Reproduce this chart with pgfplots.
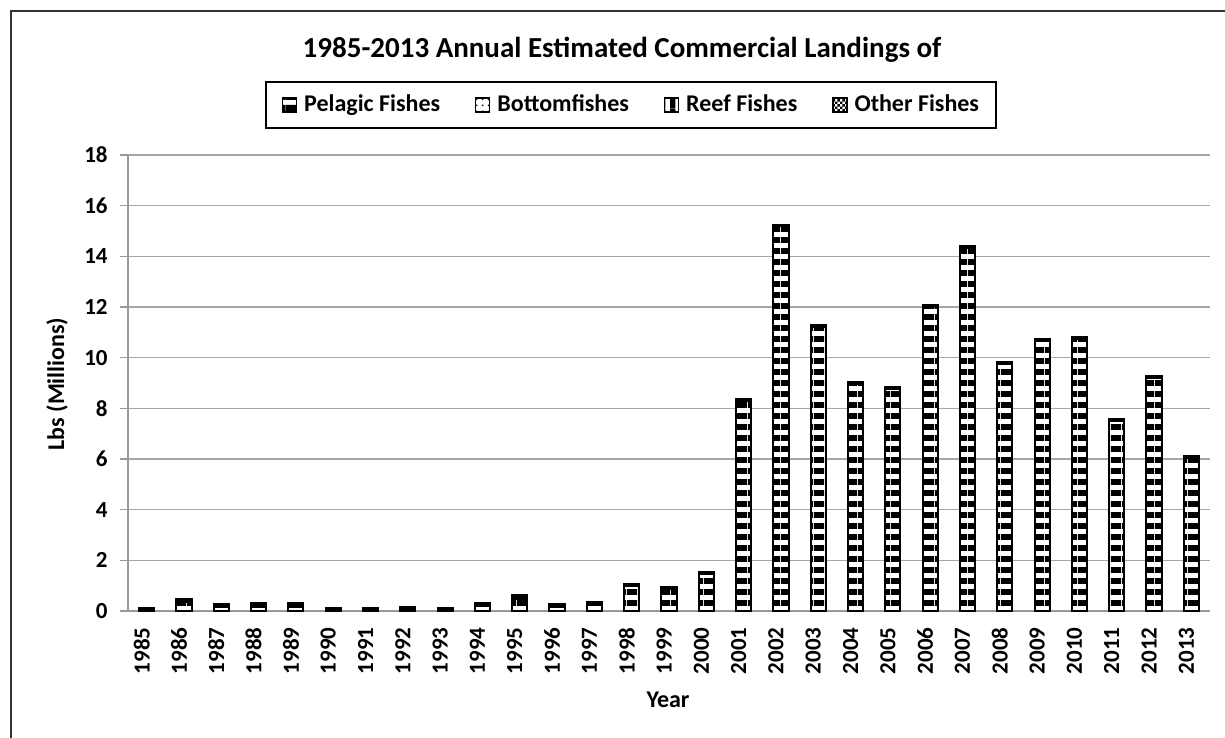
\documentclass[border=0pt]{standalone}
\usepackage{pgfplots}
\pgfplotsset{compat=1.18}
\usepackage{pgfplotstable}
\usepackage{fontspec}
\setmainfont{Carlito}
\usetikzlibrary{patterns}

% Excel-like fill patterns
\pgfdeclarepatternformonly{hstripes}{\pgfqpoint{0pt}{0pt}}{\pgfqpoint{5.5pt}{5.5pt}}{\pgfqpoint{5.5pt}{5.5pt}}{%
  \pgfpathrectangle{\pgfqpoint{0pt}{0pt}}{\pgfqpoint{5.5pt}{3.2pt}}\pgfusepath{fill}}
\pgfdeclarepatternformonly{sdots}{\pgfqpoint{0pt}{0pt}}{\pgfqpoint{3pt}{3pt}}{\pgfqpoint{3pt}{3pt}}{%
  \pgfpathrectangle{\pgfqpoint{1pt}{1pt}}{\pgfqpoint{0.8pt}{0.8pt}}\pgfusepath{fill}}
\pgfdeclarepatternformonly{vstripes}{\pgfqpoint{0pt}{0pt}}{\pgfqpoint{5pt}{5pt}}{\pgfqpoint{5pt}{5pt}}{%
  \pgfpathrectangle{\pgfqpoint{0pt}{0pt}}{\pgfqpoint{2.8pt}{5pt}}\pgfusepath{fill}}
\pgfdeclarepatternformonly{checker}{\pgfqpoint{0pt}{0pt}}{\pgfqpoint{2.4pt}{2.4pt}}{\pgfqpoint{2.4pt}{2.4pt}}{%
  \pgfpathrectangle{\pgfqpoint{0pt}{0pt}}{\pgfqpoint{1.2pt}{1.2pt}}%
  \pgfpathrectangle{\pgfqpoint{1.2pt}{1.2pt}}{\pgfqpoint{1.2pt}{1.2pt}}\pgfusepath{fill}}

% year index, pelagic, bottomfish, reef, other (million lbs)
\pgfplotstableread{
x  pel    bot   reef  oth
0  0.05   0.04  0.02  0.01
1  0.36   0.08  0.04  0.01
2  0.16   0.08  0.04  0.01
3  0.17   0.08  0.04  0.01
4  0.17   0.08  0.04  0.01
5  0.06   0.04  0.02  0.01
6  0.06   0.04  0.02  0.01
7  0.08   0.05  0.02  0.01
8  0.04   0.03  0.02  0.01
9  0.18   0.09  0.04  0.01
10 0.48   0.09  0.04  0.01
11 0.17   0.07  0.04  0.01
12 0.22   0.07  0.04  0.01
13 0.98   0.04  0.03  0.01
14 0.87   0.04  0.03  0.01
15 1.46   0.04  0.03  0.01
16 8.30   0.03  0.03  0.01
17 15.18  0.03  0.03  0.01
18 11.22  0.03  0.03  0.01
19 8.98   0.03  0.03  0.01
20 8.78   0.03  0.03  0.01
21 12.01  0.03  0.03  0.01
22 14.33  0.03  0.03  0.01
23 9.75   0.03  0.03  0.01
24 10.67  0.03  0.03  0.01
25 10.75  0.03  0.03  0.01
26 7.50   0.03  0.03  0.01
27 9.21   0.03  0.03  0.01
28 6.05   0.03  0.03  0.01
}\landings

\begin{document}
\begin{tikzpicture}
\useasboundingbox (0pt,0pt) rectangle (612.5pt,-369pt);
% outer chart frame (right and bottom edges lie outside the crop)
\draw[line width=1.4pt, black!80] (5.5pt,-400pt) -- (5.5pt,-5.5pt) -- (700pt,-5.5pt);

\node[font=\bfseries\fontsize{14.5}{17}\selectfont] at (311pt,-25pt)
  {1985-2013 Annual Estimated Commercial Landings of};

\begin{axis}[
  at={(64pt,-305.5pt)}, anchor=south west,
  width=541pt, height=228pt, scale only axis,
  ybar stacked, bar width=7.6pt,
  xmin=-0.5, xmax=28.5, ymin=0, ymax=18,
  ytick={0,2,...,18},
  xtick={0,...,28},
  xticklabels={1985,1986,1987,1988,1989,1990,1991,1992,1993,1994,1995,1996,1997,1998,1999,2000,2001,2002,2003,2004,2005,2006,2007,2008,2009,2010,2011,2012,2013},
  major x tick style={draw=none},
  extra x ticks={-0.5,0.5,...,28.5},
  extra x tick labels={},
  extra x tick style={grid=none, major tick length=4pt, tick align=outside,
    tick style={draw=gray!80, line width=0.75pt}},
  axis lines=left,
  axis line style={-, draw=gray!80, line width=0.75pt},
  ymajorgrids, grid style={draw=gray!70, line width=0.75pt},
  major tick length=4pt, tick align=outside,
  y tick style={draw=gray!80, line width=0.75pt},
  /pgf/number format/assume math mode=true,
  tick label style={font=\bfseries\fontsize{11.5}{13}\selectfont},
  x tick label style={xshift=-2.5pt, yshift=-4pt, rotate=90, anchor=east, inner sep=0pt},
  y tick label style={inner sep=0pt, xshift=-6pt},
  legend columns=4,
  legend cell align=left,
  legend style={at={(0.4649,1.1096)}, anchor=center, draw=black, line width=0.9pt,
    font=\bfseries\fontsize{12}{14}\selectfont,
    nodes={inner sep=0.5pt},
    /tikz/every odd column/.append style={column sep=3pt},
    /tikz/every even column/.append style={column sep=17pt},
    inner xsep=8pt, inner ysep=6pt},
  bars/.style={draw=black, line width=1pt, fill=white,
    legend image code/.code={\draw[##1, line width=0.6pt] (0pt,-3.5pt) rectangle (7pt,3.5pt);}},
]
\addplot[bars, postaction={pattern=hstripes, pattern color=black}] table[x=x, y=pel] {\landings};
\addplot[bars, postaction={pattern=sdots, pattern color=black}] table[x=x, y=bot] {\landings};
\addplot[bars, postaction={pattern=vstripes, pattern color=black}] table[x=x, y=reef] {\landings};
\addplot[bars, postaction={pattern=checker, pattern color=black}] table[x=x, y=oth] {\landings};
\legend{Pelagic Fishes, Bottomfishes, Reef Fishes, Other Fishes}
\end{axis}

\node[rotate=90, font=\bfseries\fontsize{12}{14}\selectfont] at (28.5pt,-192pt) {Lbs (Millions)};
\node[font=\bfseries\fontsize{12}{14}\selectfont] at (334pt,-350pt) {Year};
\end{tikzpicture}
\end{document}
